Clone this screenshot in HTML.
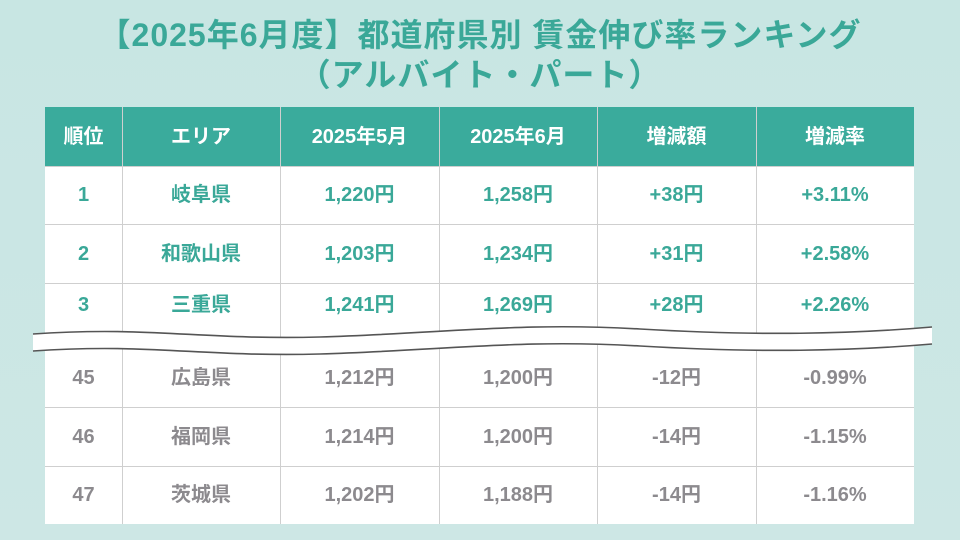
<!DOCTYPE html>
<html><head><meta charset="utf-8"><style>
body{margin:0;width:960px;height:540px;overflow:hidden;background:linear-gradient(180deg,#c8e6e3,#cde7e5);font-family:"Liberation Sans","Noto Sans CJK JP",sans-serif;font-weight:bold;position:relative}
.t{position:absolute;left:0;width:960px;text-align:center;color:#3aa898;font-size:32px;letter-spacing:1px;line-height:40px}
.tbl{position:absolute;left:45px;top:107px;width:869px;height:417px;background:#fff;}
.c{position:absolute;display:flex;align-items:center;justify-content:center;font-size:20px;line-height:24px;box-sizing:border-box}
.h{background:#3aab9c;color:#fff}
.vl{position:absolute;width:1px;background:#cfcfcf}
.hl{position:absolute;height:1px;background:#cfcfcf;left:0;width:869px}
</style></head><body>
<div class="t" style="top:15px">【2025年6月度】都道府県別 賃金伸び率ランキング</div>
<div class="t" style="top:55px">（アルバイト・パート）</div>
<div class="tbl" id="tbl"></div>
<svg style="position:absolute;left:0;top:0" width="960" height="540">
<path d="M33,334 C150,326 200,340 320,337 C450,333 520,322 640,329 C760,336 850,334 932,327 L932,344 C850,351 760,353 640,346 C520,339 450,350 320,354 C200,357 150,343 33,351 Z" fill="#fff"/>
<path d="M33,334 C150,326 200,340 320,337 C450,333 520,322 640,329 C760,336 850,334 932,327" fill="none" stroke="#555" stroke-width="1.6"/>
<path d="M33,351 C150,343 200,357 320,354 C450,350 520,339 640,346 C760,353 850,351 932,344" fill="none" stroke="#555" stroke-width="1.6"/>
</svg>
<script>
const headers=["順位","エリア","2025年5月","2025年6月","増減額","増減率"];
const ranks=["1","2","3","45","46","47"];
const areas=["岐阜県","和歌山県","三重県","広島県","福岡県","茨城県"];
const may=["1,220円","1,203円","1,241円","1,212円","1,214円","1,202円"];
const jun=["1,258円","1,234円","1,269円","1,200円","1,200円","1,188円"];
const diff=["+38円","+31円","+28円","-12円","-14円","-14円"];
const rate=["+3.11%","+2.58%","+2.26%","-0.99%","-1.15%","-1.16%"];
const colX=[0,77,235,394,552,711,869];
const tbl=document.getElementById('tbl');
for(let i=0;i<6;i++){const d=document.createElement('div');d.className='c h';
d.style.cssText+=`left:${colX[i]}px;width:${colX[i+1]-colX[i]}px;top:0;height:59px`;d.textContent=headers[i];


tbl.appendChild(d);}
const cols=[ranks,areas,may,jun,diff,rate];
for(let r=0;r<6;r++){for(let c=0;c<6;c++){const d=document.createElement('div');d.className='c';
d.style.cssText+=`left:${colX[c]}px;width:${colX[c+1]-colX[c]}px;top:${r<3?59+r*58.5:242+(r-3)*58.5}px;height:${r==2?44:58.5}px;color:${r<3?'#3aa898':'#8c8a8e'}`;
d.textContent=cols[c][r];


tbl.appendChild(d);}}
for(let i=1;i<6;i++){const v=document.createElement('div');v.className='vl';v.style.cssText+=`left:${colX[i]}px;top:0;height:417px`;


tbl.appendChild(v);}
[59,117,176,300,359].forEach(y=>{const l=document.createElement('div');l.className='hl';l.style.top=y+'px';


tbl.appendChild(l);});
</script>
</body></html>
